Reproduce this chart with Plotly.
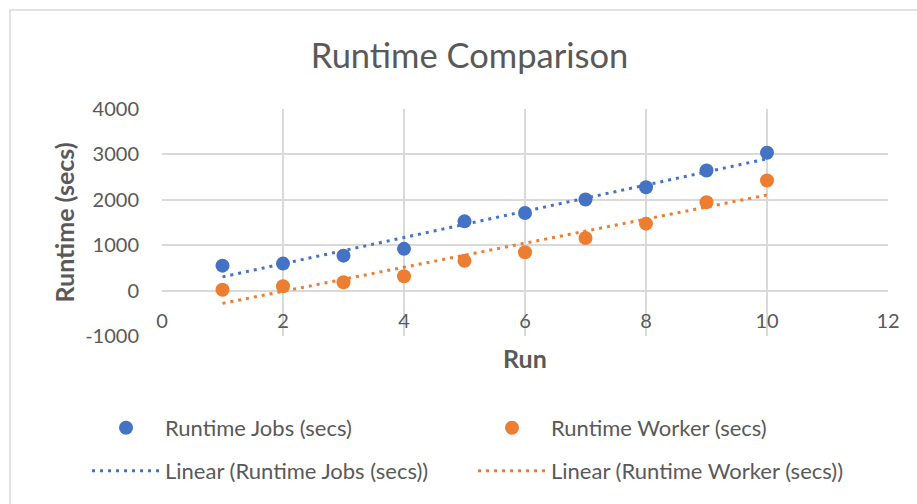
import numpy as np
import plotly.graph_objects as go

# Run number and measured runtimes (seconds)
runs = [1, 2, 3, 4, 5, 6, 7, 8, 9, 10]
jobs_secs = [550, 595, 770, 920, 1525, 1710, 2005, 2275, 2645, 3035]
worker_secs = [20, 95, 185, 315, 655, 845, 1160, 1475, 1945, 2425]

x_ticks = [0, 2, 4, 6, 8, 10, 12]
y_ticks = [-1000, 0, 1000, 2000, 3000, 4000]
y_tick_labels = ["-1000", "0", "1000", "2000", "3000", "4000"]

BLUE = "#4472C4"
ORANGE = "#ED7D31"
TEXT = "#595959"
GRID = "#D9D9D9"
FONT = "Lato"

W, H = 917, 504
ML, MR, MT, MB = 162, 29, 109, 168
PW, PH = W - ML - MR, H - MT - MB


def px_x(px):
    return (px - ML) / PW


def px_y(py):
    return (H - MB - py) / PH


def linear_fit(xs, ys):
    slope, intercept = np.polyfit(xs, ys, 1)
    xe = [min(xs), max(xs)]
    return xe, [slope * v + intercept for v in xe]


fig = go.Figure()

fig.add_trace(go.Scatter(
    x=runs, y=jobs_secs, mode="markers", name="Runtime Jobs (secs)",
    marker=dict(color=BLUE, size=14), legend="legend"))
fig.add_trace(go.Scatter(
    x=runs, y=worker_secs, mode="markers", name="Runtime Worker (secs)",
    marker=dict(color=ORANGE, size=14), legend="legend"))

jx, jy = linear_fit(runs, jobs_secs)
wx, wy = linear_fit(runs, worker_secs)
fig.add_trace(go.Scatter(
    x=jx, y=jy, mode="lines", name="Linear (Runtime Jobs (secs))",
    line=dict(color=BLUE, width=3, dash="3px,5px"), legend="legend2"))
fig.add_trace(go.Scatter(
    x=wx, y=wy, mode="lines", name="Linear (Runtime Worker (secs))",
    line=dict(color=ORANGE, width=3, dash="3px,5px"), legend="legend2"))

legend_common = dict(
    orientation="h", xanchor="left", yanchor="middle",
    itemwidth=68, entrywidth=303, bgcolor="rgba(0,0,0,0)",
    font=dict(family=FONT, size=22, color=TEXT), traceorder="normal",
)

fig.update_layout(
    width=W, height=H,
    margin=dict(l=ML, r=MR, t=MT, b=MB, autoexpand=False),
    paper_bgcolor="white", plot_bgcolor="white",
    font=dict(family=FONT, color=TEXT),
    title=dict(text="Runtime Comparison", x=469.5 / W, xref="container",
               xanchor="center", y=1 - 56 / H, yref="container", yanchor="middle",
               font=dict(family=FONT, size=34.5, color=TEXT)),
    xaxis=dict(range=[0, 12], tickvals=x_ticks, showgrid=True, gridcolor=GRID,
               gridwidth=1.5, zeroline=False, showline=False,
               anchor="free", position=px_y(291), ticks="",
               ticklabelstandoff=16,
               tickfont=dict(family=FONT, size=20, color=TEXT)),
    yaxis=dict(range=[-1000, 4000], tickvals=y_ticks, ticktext=y_tick_labels,
               showgrid=True, gridcolor=GRID,
               gridwidth=1.5, zeroline=True, zerolinecolor=GRID, zerolinewidth=1.5,
               showline=False, ticks="", ticklabelstandoff=22,
               tickfont=dict(family=FONT, size=20, color=TEXT)),
    legend=dict(x=px_x(87), y=px_y(428), **legend_common),
    legend2=dict(x=px_x(87), y=px_y(471), **legend_common),
    showlegend=True,
)

# Axis titles
fig.add_annotation(text="<b>Run</b>", x=0.5, xref="paper", y=px_y(358), yref="paper",
                   showarrow=False, xanchor="center", yanchor="middle",
                   font=dict(family=FONT, size=25, color=TEXT))
fig.add_annotation(text="<b>Runtime (secs)</b>", x=px_x(63), xref="paper", y=0.5, yref="paper",
                   showarrow=False, xanchor="center", yanchor="middle", textangle=-90,
                   font=dict(family=FONT, size=25, color=TEXT))

# Chart frame
fig.add_shape(type="rect", xref="paper", yref="paper",
              x0=px_x(10), x1=px_x(940), y0=px_y(10), y1=px_y(530),
              line=dict(color=GRID, width=1.5), fillcolor="rgba(0,0,0,0)", layer="below")

fig.write_html("out.html")
